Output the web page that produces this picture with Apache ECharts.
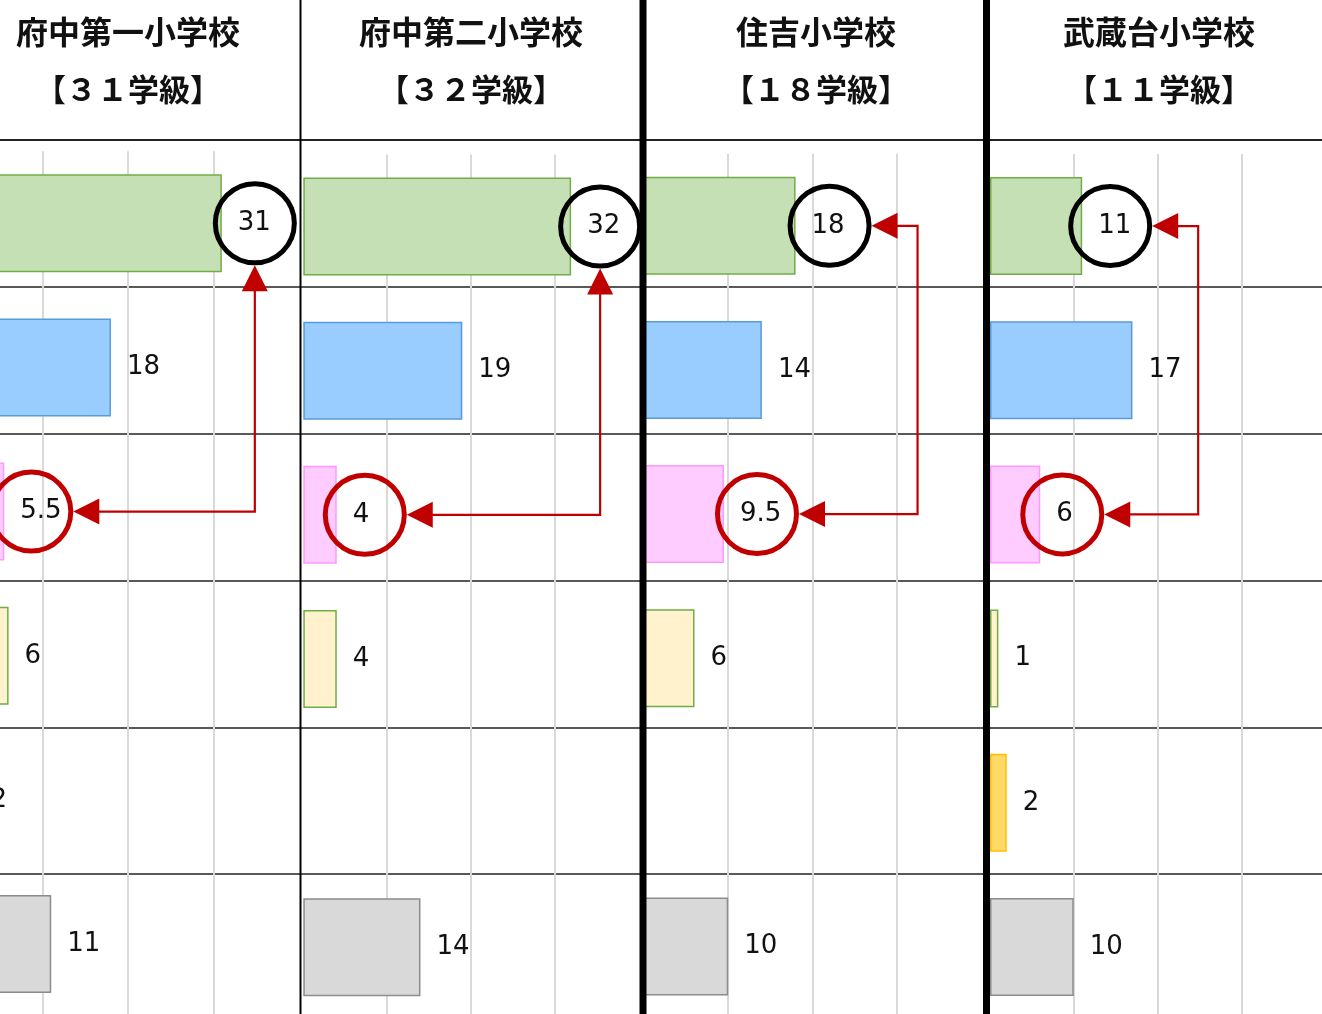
<!DOCTYPE html>
<html><head><meta charset="utf-8">
<script src="https://cdn.jsdelivr.net/npm/echarts@6/dist/echarts.min.js"></script>
<style>html,body{margin:0;padding:0;background:#fff;overflow:hidden}#c{width:1322px;height:1014px}</style>
</head><body><div id="c"></div>
<script>
// ---- data ----
const schools = ['府中第一小学校', '府中第二小学校', '住吉小学校', '武蔵台小学校'];
const classLabels = ['【３１学級】', '【３２学級】', '【１８学級】', '【１１学級】'];
const rowCategories = ['1', '2', '3', '4', '5', '6'];
const valuesFuchu1 = [31, 18, 5.5, 6, 2, 11];
const valuesFuchu2 = [32, 19, 4, 4, null, 14];
const valuesSumiyoshi = [18, 14, 9.5, 6, null, 10];
const valuesMusashidai = [11, 17, 6, 1, 2, 10];
const xTicks = [0, 10, 20, 30, 40];
const topRow = 0;   // circled in black
const redRow = 2;   // circled in red

// ---- styles / layout ----
const panelValues = [valuesFuchu1, valuesFuchu2, valuesSumiyoshi, valuesMusashidai];
const rowFill = ['#c5e0b4', '#99ccff', '#ffccff', '#fff2cc', '#ffd966', '#d9d9d9'];
const rowBorder = ['#70ad47', '#5b9bd5', '#ff99ff', '#70ad47', '#ffc000', '#8c8c8c'];
const grids = [
  { left: -42.6, width: 341.2, top: 151.2 },
  { left: 303.3, width: 334.8, top: 154.4 },
  { left: 644, width: 336.8, top: 153.7 },
  { left: 990, width: 335.2, top: 154 }
];
const gridHeight = 865;
const topCircleOffset = [33, 29, 34, 28];
const redCircleOffset = [27, 28, 33, 22];
const routeSide = [false, false, true, true];
const titleCenters = [128, 471, 816, 1159];
const CIRCLE = 79, CIRCLE_BW = 5;
const RED = '#c00000';
const numFont = '"DejaVu Sans", Verdana, sans-serif';
const cjkFont = '"Noto Sans CJK JP", sans-serif';

const chart = echarts.init(document.getElementById('c'), null, { renderer: 'canvas' });

const gridOpt = [], xAxes = [], yAxes = [], series = [];
grids.forEach((g, p) => {
  gridOpt.push({ left: g.left, width: g.width, top: g.top, height: gridHeight, containLabel: false, outerBoundsMode: 'none' });
  xAxes.push({
    type: 'value', gridIndex: p, min: xTicks[0], max: xTicks[xTicks.length - 1], interval: xTicks[1] - xTicks[0],
    axisLabel: { show: false }, axisLine: { show: false }, axisTick: { show: false },
    splitLine: { show: true, showMinLine: false, showMaxLine: false, lineStyle: { color: '#d9d9d9', width: 2 } }
  });
  yAxes.push({
    type: 'category', gridIndex: p, data: rowCategories, inverse: true,
    axisLabel: { show: false }, axisLine: { show: false }, axisTick: { show: false }, splitLine: { show: false }
  });
  const vals = panelValues[p];
  series.push({
    type: 'bar', xAxisIndex: p, yAxisIndex: p, barWidth: 98, clip: false,
    data: vals.map((v, i) => v == null ? null : {
      value: v,
      itemStyle: { color: rowFill[i], borderColor: rowBorder[i], borderWidth: 1.5 }
    }),
    label: { show: true, position: 'right', distance: 16, color: '#111', fontSize: 26, fontFamily: numFont, formatter: '{c}' },
    emphasis: { disabled: true }, animation: false, z: 2
  });
  series.push({
    type: 'scatter', xAxisIndex: p, yAxisIndex: p, symbol: 'circle', symbolSize: CIRCLE,
    symbolOffset: [topCircleOffset[p], 0], silent: true, animation: false, z: 5,
    itemStyle: { color: 'rgba(255,255,255,0)', borderColor: '#000', borderWidth: CIRCLE_BW, opacity: 1 },
    data: [[vals[topRow], topRow]]
  });
  series.push({
    type: 'scatter', xAxisIndex: p, yAxisIndex: p, symbol: 'circle', symbolSize: CIRCLE,
    symbolOffset: [redCircleOffset[p], 0], silent: true, animation: false, z: 5,
    itemStyle: { color: 'rgba(255,255,255,0)', borderColor: RED, borderWidth: CIRCLE_BW, opacity: 1 },
    data: [[vals[redRow], redRow]]
  });
});
// table row lines grid
gridOpt.push({ left: 0, right: 0, top: 140, height: 881, containLabel: false, outerBoundsMode: 'none' });
xAxes.push({ type: 'value', gridIndex: 4, show: false, min: 0, max: 1 });
yAxes.push({
  type: 'category', gridIndex: 4, data: rowCategories, inverse: true,
  axisLabel: { show: false }, axisLine: { show: false }, axisTick: { show: false },
  splitLine: { show: true, lineStyle: { color: '#222', width: 1.6 } }
});

const baseGraphic = [];
[[300.5, 2], [643, 7], [986.5, 7]].forEach(([x, w]) => {
  baseGraphic.push({ type: 'line', shape: { x1: x, y1: 0, x2: x, y2: 1014 }, style: { stroke: '#000', lineWidth: w }, z: 30, silent: true });
});
baseGraphic.push({ type: 'line', shape: { x1: 0, y1: 140, x2: 1322, y2: 140 }, style: { stroke: '#111', lineWidth: 1.6 }, z: 29, silent: true });
schools.forEach((s, p) => {
  baseGraphic.push({ type: 'text', x: titleCenters[p], y: 32, z: 30, silent: true,
    style: { text: s, align: 'center', verticalAlign: 'middle', fontSize: 32, fontWeight: 'bold', fontFamily: cjkFont, fill: '#111' } });
  baseGraphic.push({ type: 'text', x: titleCenters[p], y: 89, z: 30, silent: true,
    style: { text: classLabels[p], align: 'center', verticalAlign: 'middle', fontSize: 31, fontWeight: 'bold', fontFamily: cjkFont, fill: '#111' } });
});

chart.setOption({
  animation: false,
  backgroundColor: '#fff',
  grid: gridOpt, xAxis: xAxes, yAxis: yAxes, series: series,
  graphic: baseGraphic
});

// connector arrows derived from the scales
const R = (CIRCLE + CIRCLE_BW) / 2, AL = 26, AW = 13;
const arrowGraphic = [];
function head(x, y, dir) {
  const pts = dir === 'up'
    ? [[x, y], [x - AW, y + AL], [x + AW, y + AL]]
    : [[x, y], [x + AL, y - AW], [x + AL, y + AW]];
  return { type: 'polygon', shape: { points: pts }, style: { fill: RED }, z: 40, silent: true };
}
grids.forEach((g, p) => {
  const vals = panelValues[p];
  const t = chart.convertToPixel({ gridIndex: p }, [vals[topRow], topRow]);
  const r = chart.convertToPixel({ gridIndex: p }, [vals[redRow], redRow]);
  const tx = t[0] + topCircleOffset[p], ty = t[1];
  const rx = r[0] + redCircleOffset[p], ry = r[1];
  let pts;
  if (!routeSide[p]) {
    pts = [[tx, ty + R + AL - 2], [tx, ry], [rx + R + AL - 2, ry]];
    arrowGraphic.push(head(tx, ty + R, 'up'));
  } else {
    const X = tx + 88;
    pts = [[tx + R + AL - 2, ty], [X, ty], [X, ry], [rx + R + AL - 2, ry]];
    arrowGraphic.push(head(tx + R, ty, 'left'));
  }
  arrowGraphic.push(head(rx + R, ry, 'left'));
  arrowGraphic.push({ type: 'polyline', shape: { points: pts }, style: { stroke: RED, lineWidth: 2.2, fill: null }, z: 39, silent: true });
});
chart.setOption({ graphic: baseGraphic.concat(arrowGraphic) });
</script></body></html>
